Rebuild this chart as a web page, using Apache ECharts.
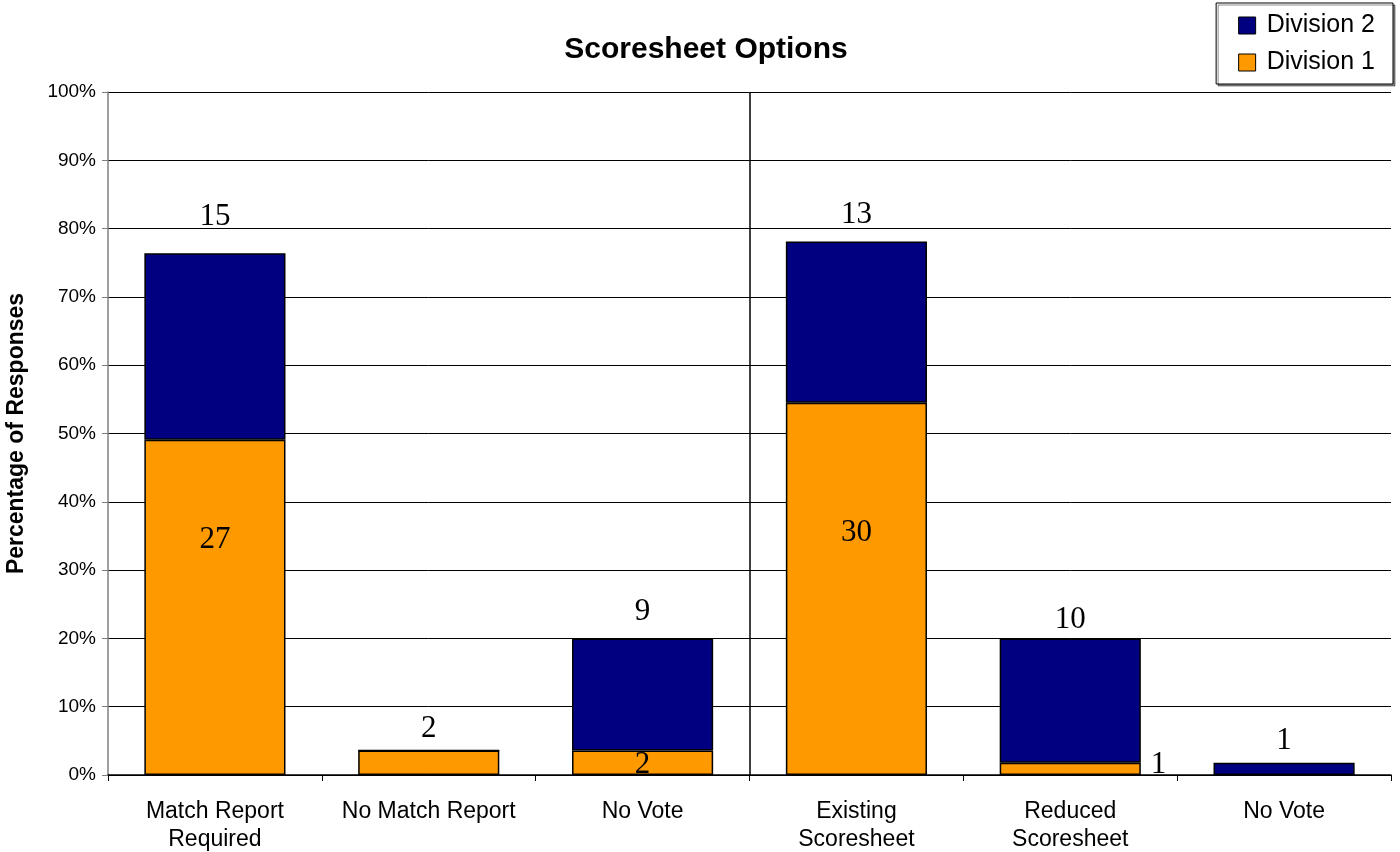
<!DOCTYPE html>
<html>
<head>
<meta charset="utf-8">
<script src="https://cdn.jsdelivr.net/npm/echarts@6/dist/echarts.min.js"></script>
<style>
html,body{margin:0;padding:0;background:#fff;}
#chart{width:1400px;height:852px;}
</style>
</head>
<body>
<div id="chart"></div>
<script>
const categories = ['Match Report\nRequired', 'No Match Report', 'No Vote', 'Existing\nScoresheet', 'Reduced\nScoresheet', 'No Vote'];
const div1Pct = [49.1, 3.6, 3.6, 54.5, 1.8, 0];
const div2Pct = [27.3, 0, 16.4, 23.6, 18.2, 1.8];
const div1Labels = ['27', '', '2', '30', '1', ''];
const div2Labels = ['15', '2', '9', '13', '10', '1'];
const yTicks = [0, 10, 20, 30, 40, 50, 60, 70, 80, 90, 100];
const groupSplit = 3; // separator between question groups (category boundary)

const serif = 'Liberation Serif';
const sans = 'Liberation Sans';

const d1Offsets = [[0, -67], [0, 0], [0, 2], [0, -56], [0, -4], [0, 0]];
const d2Distances = [21, 5, 11, 11, 3, 6];

const d1 = div1Pct.map((v, i) => {
  const item = { value: v, label: { formatter: div1Labels[i], offset: d1Offsets[i] } };
  if (i === 4) {
    item.label.position = 'right';
    item.label.distance = 10;
  }
  return item;
});
const d2 = div2Pct.map((v, i) => ({
  value: v,
  label: { formatter: div2Labels[i], distance: d2Distances[i] }
}));

const chart = echarts.init(document.getElementById('chart'), null, { renderer: 'canvas' });
chart.setOption({
  animation: false,
  backgroundColor: '#fff',
  title: {
    text: 'Scoresheet Options',
    left: 701, top: 30, textAlign: 'center',
    textStyle: { fontFamily: sans, fontSize: 30, fontWeight: 'bold', color: '#000' }
  },
  legend: {
    right: 7, top: 3,
    orient: 'vertical',
    data: ['Division 2', 'Division 1'],
    icon: 'rect',
    itemWidth: 17, itemHeight: 17, itemGap: 12,
    padding: [10, 18, 9, 22],
    borderColor: '#000', borderWidth: 1,
    shadowColor: 'rgba(0,0,0,0.45)', shadowOffsetX: 2, shadowOffsetY: 2, shadowBlur: 0,
    backgroundColor: '#fff',
    textStyle: { fontFamily: sans, fontSize: 25, color: '#000', padding: [0, 0, 0, 6] },
    itemStyle: { borderColor: '#000', borderWidth: 1 }
  },
  grid: { left: 108, right: 9, top: 92, bottom: 77, containLabel: false, outerBoundsMode: 'none' },
  xAxis: [
    {
      type: 'category',
      data: categories,
      boundaryGap: true,
      axisLine: { lineStyle: { color: '#000', width: 1.5 } },
      axisTick: { show: true, length: 6, lineStyle: { color: '#000' } },
      axisLabel: { fontFamily: sans, fontSize: 23, color: '#000', margin: 23, lineHeight: 28, interval: 0 },
      splitLine: { show: false }
    },
    {
      type: 'value', min: 0, max: categories.length, show: false
    }
  ],
  yAxis: {
    type: 'value',
    min: 0, max: 100, interval: 10,
    axisLine: { show: true, lineStyle: { color: '#808080', width: 1.5 } },
    axisTick: { show: true, length: 6, lineStyle: { color: '#808080' } },
    axisLabel: { fontFamily: sans, fontSize: 19, color: '#000', margin: 12,
      formatter: (v) => yTicks.includes(v) ? v + '%' : '' },
    splitLine: { show: true, lineStyle: { color: '#000', width: 1 } },
    name: 'Percentage of Responses',
    nameLocation: 'middle',
    nameGap: 80,
    nameRotate: 90,
    nameTextStyle: { fontFamily: sans, fontSize: 23, fontWeight: 'bold', color: '#000' }
  },
  series: [
    {
      name: 'Division 1', type: 'bar', stack: 'all', barWidth: '66%',
      itemStyle: { color: '#FF9900', borderColor: '#000', borderWidth: 1.5 },
      label: { show: true, position: 'inside', fontFamily: serif, fontSize: 31, color: '#000' },
      data: d1
    },
    {
      name: 'Division 2', type: 'bar', stack: 'all', barWidth: '66%',
      itemStyle: { color: '#000080', borderColor: '#000', borderWidth: 1.5 },
      label: { show: true, position: 'top', fontFamily: serif, fontSize: 31, color: '#000' },
      data: d2
    },
    {
      name: 'separator', type: 'line', xAxisIndex: 1, data: [],
      markLine: {
        silent: true, symbol: ['none', 'none'],
        label: { show: false },
        lineStyle: { color: '#000', width: 1.5, type: 'solid' },
        data: [{ xAxis: groupSplit }]
      }
    }
  ]
});
</script>
</body>
</html>
